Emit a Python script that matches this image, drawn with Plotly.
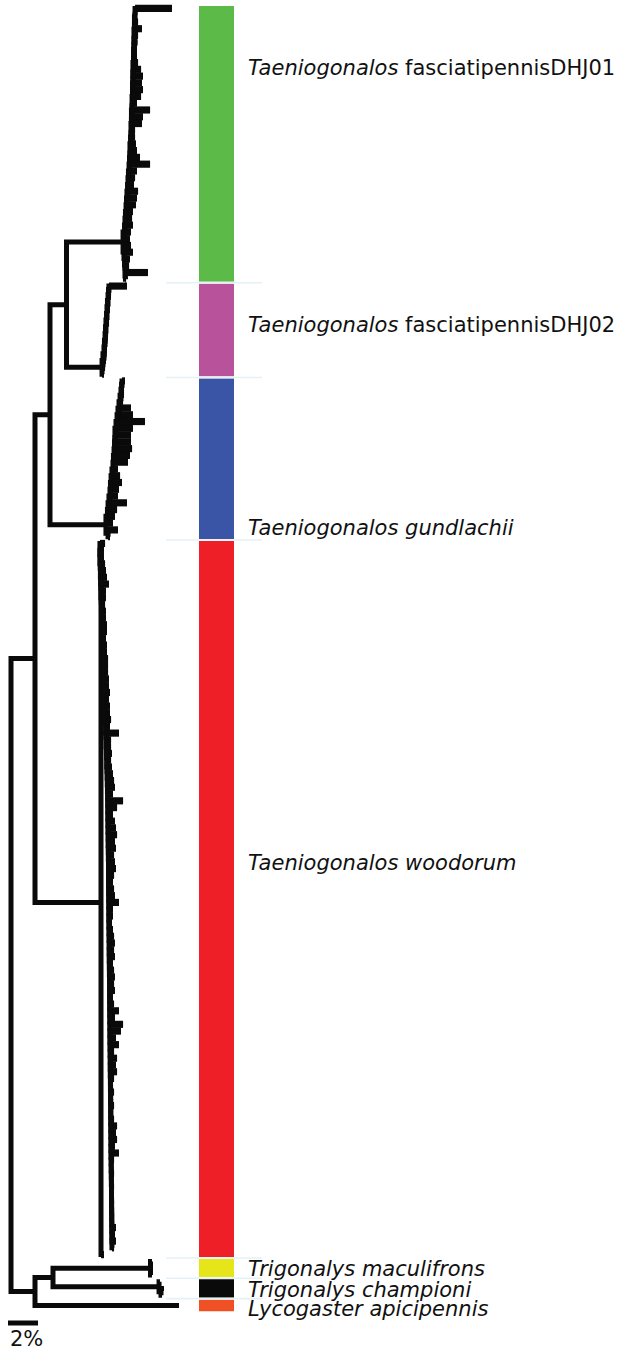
import plotly.graph_objects as go

# ---------------------------------------------------------------- data
clade_names = [
    "<i>Taeniogonalos</i> fasciatipennisDHJ01",
    "<i>Taeniogonalos</i> fasciatipennisDHJ02",
    "<i>Taeniogonalos gundlachii</i>",
    "<i>Taeniogonalos woodorum</i>",
    "<i>Trigonalys maculifrons</i>",
    "<i>Trigonalys championi</i>",
    "<i>Lycogaster apicipennis</i>",
]
clade_colors = ["#5cba48", "#b8529b", "#3a55a5", "#ee1f26", "#e6e51a", "#0a0a0a", "#ef5124"]

# node depths (distance from root, %)
root_x = 0.0
ingroup_x = 1.6
fasc_gund_x = 2.6
fasc_x = 3.7
outgroup_x = 1.6
trigonalys_x = 2.8

# T. fasciatipennis DHJ01 (tips listed top -> bottom)
green_root_x = 7.47
green_tip_x = [10.73, 8.4, 8.47, 8.73, 8.47, 8.43, 8.4, 8.4, 8.47, 8.67,
               8.8, 8.73, 8.8, 8.67, 8.4, 9.27, 8.8, 8.73, 8.27, 8.27,
               8.33, 8.4, 8.6, 9.27, 8.4, 8.27, 8.2, 8.47, 8.4, 8.33,
               8.13, 8.07, 8.13, 8.0, 7.93]
green_node_x = [8.27, 8.27, 8.23, 8.23, 8.2, 8.2, 8.2, 8.17, 8.17, 8.13,
                8.13, 8.13, 8.1, 8.1, 8.07, 8.07, 8.03, 8.03, 8.0, 8.0,
                7.97, 7.93, 7.93, 7.9, 7.87, 7.83, 7.8, 7.77, 7.73, 7.7,
                7.67, 7.63, 7.6, 7.57]
green_base_tip_x = [8.0, 8.13, 7.93, 7.87, 9.13, 7.67]
green_base_node_x = [7.53, 7.57, 7.6, 7.6, 7.63]

# T. fasciatipennis DHJ02
pink_tip_x = [7.73, 6.67, 6.6, 6.57, 6.53, 6.5, 6.47, 6.47, 6.43, 6.4, 6.37, 6.33, 6.27, 6.2]
pink_node_x = [6.53, 6.5, 6.47, 6.43, 6.4, 6.37, 6.33, 6.3, 6.27, 6.23, 6.2, 6.13, 6.07]

# T. gundlachii
blue_tip_x = [7.6, 7.53, 7.53, 7.47, 8.0, 8.13, 8.93, 8.13, 8.0, 8.0,
              8.07, 7.93, 7.8, 7.13, 7.27, 7.4, 7.2, 7.13, 7.73, 7.07,
              6.93, 6.8]
blue_node_x = [7.4, 7.37, 7.33, 7.27, 7.2, 7.13, 7.07, 7.0, 6.93, 6.93,
               6.9, 6.87, 6.83, 6.8, 6.73, 6.67, 6.63, 6.6, 6.53, 6.47,
               6.43, 6.33]
blue_pair_node_x = 6.47
blue_pair_tip_x = [7.13, 6.6]

# T. woodorum
red_root_x = 6.0
red_tip_x = [6.27, 6.2, 6.2, 6.27, 6.33, 6.4, 6.53, 6.33, 6.33, 6.27,
             6.33, 6.33, 6.4, 6.4, 6.33, 6.4, 6.4, 6.47, 6.47, 6.47,
             6.53, 6.53, 6.6, 6.53, 6.6, 6.6, 6.67, 6.6, 7.2, 6.67,
             6.67, 6.73, 6.67, 6.73, 6.8, 6.87, 6.93, 6.8, 7.47, 7.07,
             6.8, 6.93, 7.0, 7.07, 6.93, 7.0, 6.87, 6.93, 7.0, 6.87,
             6.8, 6.87, 6.93, 7.2, 6.8, 6.8, 6.73, 6.8, 6.87, 6.93,
             6.87, 6.93, 6.8, 6.87, 6.93, 6.87, 6.93, 6.8, 6.87, 7.2,
             6.93, 7.47, 7.33, 7.0, 7.2, 6.87, 7.07, 7.0, 7.07, 6.87,
             6.8, 6.87, 6.8, 6.87, 6.8, 6.87, 7.07, 7.0, 7.07, 6.93,
             7.2, 6.87, 6.8, 6.87, 6.8, 6.87, 6.8, 6.87, 6.8, 6.87,
             6.8, 7.0, 6.93, 7.0, 6.87]
red_node_x = [5.93, 5.93, 5.95, 5.96, 5.98, 6.0, 6.0, 6.02, 6.03, 6.05,
              6.07, 6.07, 6.09, 6.1, 6.12, 6.13, 6.14, 6.16, 6.17, 6.19,
              6.2, 6.22, 6.23, 6.25, 6.27, 6.3, 6.31, 6.33, 6.34, 6.36,
              6.37, 6.38, 6.4, 6.41, 6.42, 6.43, 6.44, 6.45, 6.46, 6.46,
              6.47, 6.47, 6.48, 6.48, 6.49, 6.49, 6.5, 6.5, 6.5, 6.51,
              6.51, 6.52, 6.52, 6.53, 6.53, 6.53, 6.54, 6.54, 6.55, 6.55,
              6.55, 6.56, 6.56, 6.57, 6.57, 6.58, 6.58, 6.58, 6.59, 6.59,
              6.6, 6.6, 6.6, 6.61, 6.61, 6.62, 6.62, 6.62, 6.63, 6.63,
              6.64, 6.64, 6.65, 6.65, 6.65, 6.66, 6.66, 6.67, 6.67, 6.67,
              6.68, 6.68, 6.69, 6.69, 6.7, 6.7, 6.7, 6.71, 6.71, 6.72,
              6.72, 6.73, 6.73, 6.73]
red_last_tip_x = 6.2

# outgroups
mac_node_x = 9.3
mac_tip_x = [9.4, 9.4, 9.4]
champ_node_x = 9.87
champ_tip_x = 9.93
champ_sub_node_x = 10.0
champ_sub_tip_x = [10.2, 10.07]
lyco_tip_x = 11.2
lyco_sequences = 2          # identical sequences collapsed on one terminal

scale_bar_pct = 2
scale_bar_label = "2%"

# ---------------------------------------------------------------- tree build
def node(x, children, clade=None):
    return {"x": x, "c": children, "clade": clade}


def ladder_up(tips, nodes, clade=None):
    # deepest node at the top, shallowest tip at the bottom
    sub = node(nodes[0], [tips[0], tips[1]])
    for j in range(1, len(nodes)):
        sub = node(nodes[j], [sub, tips[j + 1]])
    sub["clade"] = clade
    return sub


def ladder_down(tips, nodes, clade=None):
    # shallowest tip at the top, deepest node at the bottom
    sub = node(nodes[-1], [tips[-2], tips[-1]])
    for j in range(len(nodes) - 2, -1, -1):
        sub = node(nodes[j], [tips[j], sub])
    sub["clade"] = clade
    return sub


green = node(green_root_x, [ladder_up(green_tip_x, green_node_x),
                            ladder_down(green_base_tip_x, green_base_node_x)], clade=0)
pink = ladder_up(pink_tip_x, pink_node_x, clade=1)
blue = ladder_up(blue_tip_x + [node(blue_pair_node_x, blue_pair_tip_x)], blue_node_x, clade=2)
red = node(red_root_x, [ladder_down(red_tip_x, red_node_x), red_last_tip_x], clade=3)
mac = node(mac_node_x, mac_tip_x, clade=4)
champ = node(champ_node_x, [champ_tip_x, node(champ_sub_node_x, champ_sub_tip_x)], clade=5)
lyco = {"tip": lyco_tip_x, "n": lyco_sequences, "clade": 6}

tree = node(root_x, [
    node(ingroup_x, [node(fasc_gund_x, [node(fasc_x, [green, pink]), blue]), red]),
    node(outgroup_x, [node(trigonalys_x, [mac, champ]), lyco]),
])

DENSE_CLADES = {0, 1, 2, 3}   # many closely packed tips: drawn as a solid mass

seg_x, seg_y = [], []
dense_x, dense_y = [], []
counter = [0]
clade_span = {}


def is_tip(t):
    return not isinstance(t, dict) or "tip" in t


def place(t, dense=False):
    if is_tip(t):
        start = counter[0]
        n = t["n"] if isinstance(t, dict) else 1
        x = t["tip"] if isinstance(t, dict) else t
        y = counter[0] + n / 2
        counter[0] += n
        if isinstance(t, dict) and t.get("clade") is not None:
            clade_span[t["clade"]] = (start, counter[0])
        return x, y
    if t.get("clade") in DENSE_CLADES:
        dense = True
    start = counter[0]
    pts = [place(c, dense) for c in t["c"]]
    x = t["x"]
    ys = [p[1] for p in pts]
    y = (ys[0] + ys[-1]) / 2
    seg_x.extend([pts[0][0], x, x, pts[-1][0], None])
    seg_y.extend([ys[0], ys[0], ys[-1], ys[-1], None])
    for cx, cy in pts[1:-1]:
        seg_x.extend([x, cx, None])
        seg_y.extend([cy, cy, None])
    if dense:
        for c, (cx, cy) in zip(t["c"], pts):
            if is_tip(c):
                dense_x.extend([x, cx, None])
                dense_y.extend([cy, cy, None])
    if t.get("clade") is not None:
        clade_span[t["clade"]] = (start, counter[0])
    return x, y


place(tree)
n_tips = counter[0]

# ---------------------------------------------------------------- layout constants
W, H = 621, 1351
px_per_pct = 15.0
root_px = 11.0
top_px = 5.0
px_per_tip = 6.773

x_range = [(0 - root_px) / px_per_pct, (W - root_px) / px_per_pct]
y_range = [(H - top_px) / px_per_tip, (0 - top_px) / px_per_tip]


def ypx(p):
    return (p - top_px) / px_per_tip


strip_x0 = (198 - root_px) / px_per_pct
strip_w = (235 - 198) / px_per_pct
guide_x = [(166 - root_px) / px_per_pct, (262 - root_px) / px_per_pct]
label_x = (246 - root_px) / px_per_pct
label_y_px = [68, 325, 528, 863, 1269, 1290, 1309]

order = sorted(clade_span)
centers = [(clade_span[i][0] + clade_span[i][1]) / 2 for i in order]
counts = [clade_span[i][1] - clade_span[i][0] for i in order]

fig = go.Figure()

# faint separators between clade blocks
gx, gy = [], []
for i in order[1:]:
    b = clade_span[i][0]
    gx += [guide_x[0], guide_x[1], None]
    gy += [b, b, None]
fig.add_trace(go.Scatter(x=gx, y=gy, mode="lines",
                         line=dict(color="#e4f2f7", width=1.6), hoverinfo="skip"))

# colour strip
fig.add_trace(go.Bar(orientation="h", y=centers, x=[strip_w] * len(order),
                     base=[strip_x0] * len(order), width=counts,
                     marker=dict(color=[clade_colors[i] for i in order],
                                 line=dict(color="white", width=2)),
                     hoverinfo="skip"))

# tree: packed terminal branches, then all branches
fig.add_trace(go.Scatter(x=dense_x, y=dense_y, mode="lines",
                         line=dict(color="#0a0a0a", width=px_per_tip + 0.4), hoverinfo="skip"))
fig.add_trace(go.Scatter(x=seg_x, y=seg_y, mode="lines",
                         line=dict(color="#0a0a0a", width=5), hoverinfo="skip"))

# scale bar
sb_x0 = (8 - root_px) / px_per_pct
sb_y = ypx(1323)
fig.add_trace(go.Scatter(x=[sb_x0, sb_x0 + scale_bar_pct], y=[sb_y, sb_y], mode="lines",
                         line=dict(color="#0a0a0a", width=5), hoverinfo="skip"))

font = dict(family="DejaVu Sans, Verdana, sans-serif", size=21, color="#111111")
for i in order:
    fig.add_annotation(x=label_x, y=ypx(label_y_px[i]), text=clade_names[i],
                       xanchor="left", yanchor="middle", showarrow=False, font=font)
fig.add_annotation(x=sb_x0, y=ypx(1339), text=scale_bar_label, xanchor="left",
                   yanchor="middle", showarrow=False, font=font)

fig.update_layout(
    width=W, height=H, margin=dict(l=0, r=0, t=0, b=0),
    paper_bgcolor="white", plot_bgcolor="white", showlegend=False,
    xaxis=dict(range=x_range, visible=False, fixedrange=True),
    yaxis=dict(range=y_range, visible=False, fixedrange=True),
)

fig.write_html("out.html", config={"displayModeBar": False},
               post_script="document.body.style.margin='0';document.body.style.overflow='hidden';")
